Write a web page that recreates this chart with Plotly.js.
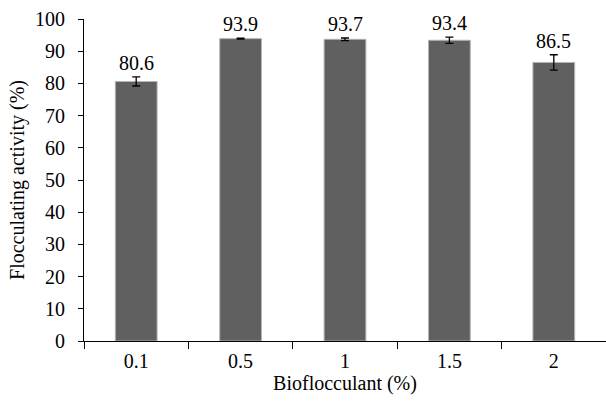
<!DOCTYPE html>
<html>
<head>
<meta charset="utf-8">
<script src="https://cdn.plot.ly/plotly-3.0.1.min.js"></script>
<style>html,body{margin:0;padding:0;background:#fff;}#chart{width:606px;height:404px;}</style>
</head>
<body>
<div id="chart"></div>
<script>
var categories = ["0.1", "0.5", "1", "1.5", "2"];
var activity = [80.6, 93.9, 93.7, 93.4, 86.5];
var errors = [1.4, 0.15, 0.4, 1.0, 2.4];
var labels = ["80.6", "93.9", "93.7", "93.4", "86.5"];

var font = "'Liberation Serif', 'Times New Roman', serif";

var data = [
  {
    type: "bar",
    x: categories,
    y: activity,
    width: 0.4,
    marker: { color: "#606060", line: { color: "#b4b4b4", width: 1 } },
    error_y: { type: "data", array: errors, visible: true, color: "#000", thickness: 1.3, width: 4 },
    hoverinfo: "skip"
  }
];

// On a category axis, annotation x is the category index
var annotations = categories.map(function (c, i) {
  return {
    x: i,
    y: activity[i] + errors[i],
    xref: "x",
    yref: "y",
    text: labels[i],
    showarrow: false,
    xanchor: "center",
    yanchor: "bottom",
    yshift: 1,
    font: { family: font, size: 20, color: "#000" }
  };
});

var layout = {
  width: 606,
  height: 404,
  margin: { l: 84, r: 0, t: 19, b: 63 },
  paper_bgcolor: "#fff",
  plot_bgcolor: "#fff",
  showlegend: false,
  font: { family: font, size: 20, color: "#000" },
  annotations: annotations,
  xaxis: {
    type: "category",
    range: [-0.5, 4.5],
    tickson: "boundaries",
    ticks: "outside",
    ticklen: 7,
    tickcolor: "#000",
    showline: true,
    linecolor: "#000",
    linewidth: 1,
    showgrid: false,
    zeroline: false,
    ticklabelstandoff: 2,
    tickfont: { family: font, size: 20, color: "#000" },
    title: { text: "Bioflocculant (%)", font: { family: font, size: 20, color: "#000" }, standoff: 3 }
  },
  yaxis: {
    range: [0, 100],
    dtick: 10,
    ticks: "outside",
    ticklen: 5,
    tickcolor: "#000",
    showline: true,
    linecolor: "#000",
    linewidth: 1,
    showgrid: false,
    zeroline: false,
    ticklabelstandoff: 9,
    tickfont: { family: font, size: 20, color: "#000" },
    title: { text: "Flocculating activity (%)", font: { family: font, size: 20, color: "#000" }, standoff: 5 }
  }
};

Plotly.newPlot("chart", data, layout, { displayModeBar: false, staticPlot: true });
</script>
</body>
</html>
